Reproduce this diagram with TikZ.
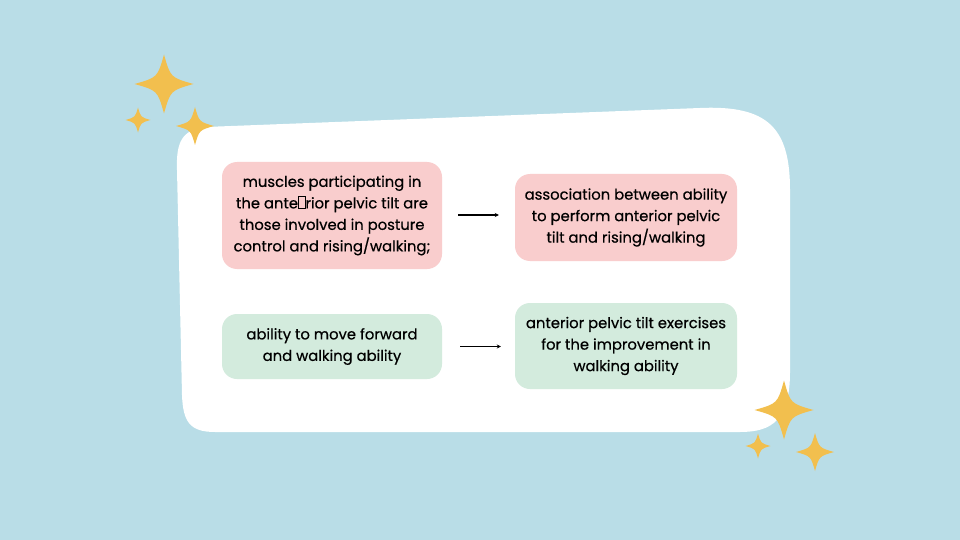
\documentclass[tikz,border=0pt]{standalone}
\usepackage{fontspec}
\setmainfont{Poppins}
\newfontfamily\cardfont{Poppins}[FakeBold=0.5]
\usetikzlibrary{arrows.meta}
\definecolor{bgblue}{HTML}{B9DDE7}
\definecolor{pinkbox}{HTML}{F9CDCD}
\definecolor{greenbox}{HTML}{D3EBDD}
\definecolor{starc}{HTML}{F2BF4E}
\newcommand\missingglyph{{\fboxsep=0pt\fboxrule=0.6pt\fbox{\rule{0pt}{1.45ex}\hspace{0.42em}}}}
\tikzset{
  sparkle/.pic={\fill[starc] (0,1) .. controls (0.22,0.22) .. (1,0) .. controls (0.22,-0.22) .. (0,-1) .. controls (-0.22,-0.22) .. (-1,0) .. controls (-0.22,0.22) .. cycle;},
  card/.style={rounded corners=15pt, inner sep=0pt, align=center, font=\cardfont\fontsize{14.8}{21.5}\selectfont, text=black},
  pinkcard/.style={card, fill=pinkbox},
  greencard/.style={card, fill=greenbox},
  link/.style={-{Stealth[length=4pt,width=4pt]}, line width=1.1pt, black}
}
\begin{document}
\begin{tikzpicture}[x=1pt,y=-1pt]
\fill[bgblue] (0,0) rectangle (960,540);
\useasboundingbox (0,0) rectangle (960,540);
% white blob
\fill[white] (177,170) .. controls (176,142) and (182,130) .. (205,127)
  -- (700,108) .. controls (768,105) and (790,128) .. (790,190)
  -- (790,372) .. controls (790,420) and (772,432) .. (740,432)
  -- (215,432) .. controls (190,432) and (183,422) .. (182,395)
  -- cycle;
% stars
\pic[scale=29.5] at (164,84) {sparkle};
\pic[scale=12.5] at (138,120) {sparkle};
\pic[scale=19] at (195,126) {sparkle};
\pic[scale=29.5] at (784,410) {sparkle};
\pic[scale=12.5] at (758,446) {sparkle};
\pic[scale=19] at (815,452) {sparkle};
% boxes
\node[pinkcard, minimum width=220pt, minimum height=107pt] (a) at (332,215.5)
  {muscles participating in\\the ante\missingglyph rior pelvic tilt are\\those involved in posture\\control and rising/walking;};
\node[pinkcard, minimum width=222pt, minimum height=87pt] (b) at (626,217.5)
  {association between ability\\to perform anterior pelvic\\tilt and rising/walking};
\node[greencard, minimum width=220pt, minimum height=65pt] (c) at (332,346.5)
  {ability to move forward\\and walking ability};
\node[greencard, minimum width=222pt, minimum height=86pt] (d) at (626,346)
  {anterior pelvic tilt exercises\\for the improvement in\\walking ability};
\draw[link] ([xshift=16pt]a.east |- 0,215) -- ([xshift=-16pt]b.west |- 0,215);
\draw[link] ([xshift=18pt]c.east) -- ([xshift=-14pt]d.west |- c.east);
\end{tikzpicture}
\end{document}
